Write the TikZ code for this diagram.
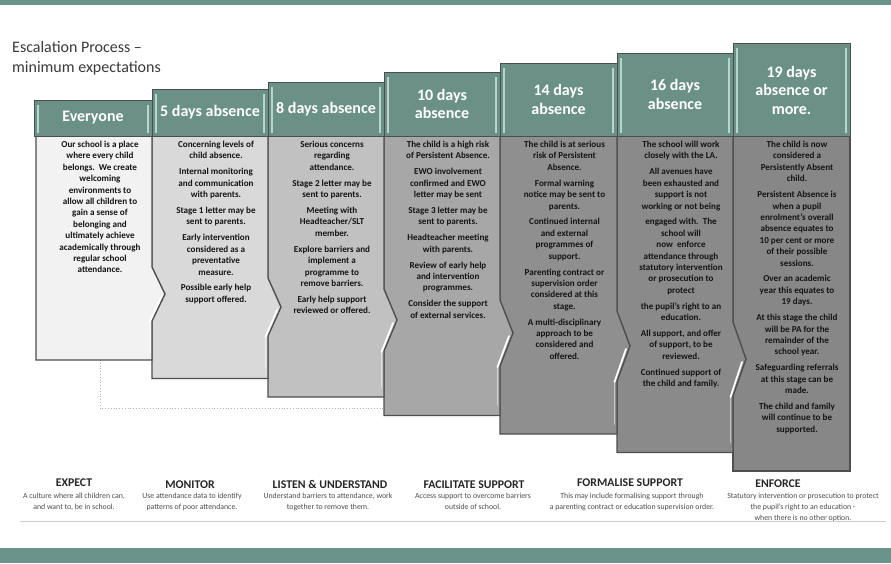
\documentclass[tikz,border=0pt]{standalone}
\usepackage{fontspec}
\setmainfont{Carlito}
\definecolor{band}{HTML}{6A948A}
\definecolor{headfill}{HTML}{6B9186}
\definecolor{headline}{HTML}{4A4F4D}
\definecolor{stripe}{HTML}{B4D6CC}
\definecolor{edge}{HTML}{4E4E4E}
\definecolor{pa}{HTML}{F2F2F2}
\definecolor{pb}{HTML}{D9D9D9}
\definecolor{pc}{HTML}{C1C1C1}
\definecolor{pd}{HTML}{A7A7A7}
\definecolor{pe}{HTML}{8F8F8F}
\definecolor{pf}{HTML}{8A8A8A}
\definecolor{pg}{HTML}{878787}
\definecolor{bodytext}{HTML}{141414}
\definecolor{titletext}{HTML}{3A3A3A}
\tikzset{
  panel/.style={draw=edge, line width=1.4pt, line join=miter},
  headbox/.style={draw=headline, line width=0.9pt, fill=headfill},
  headstripe/.style={draw=stripe, line width=1.1pt},
  headtext/.style={text=white, font=\fontsize{16}{18.5}\selectfont\bfseries, align=center, inner sep=0pt},
  bodytxt/.style={text=bodytext, font=\fontsize{9.1}{11.4}\selectfont\bfseries, align=center, anchor=north, inner sep=0pt},
  hilite/.style={draw=white, line width=1.8pt, line cap=round},
  lowhead/.style={text=black!85, font=\fontsize{11.8}{12}\selectfont\bfseries, inner sep=0pt},
  lowdesc/.style={text=black!70, font=\fontsize{7.8}{10.8}\selectfont, align=center, anchor=north, inner sep=0pt},
}
\begin{document}
\begin{tikzpicture}[x=1pt,y=-1pt]
\useasboundingbox (0,0) rectangle (891,563);
\fill[white] (0,0) rectangle (891,563);
\fill[band] (0,0) rectangle (891,5);
\fill[band] (0,548) rectangle (891,563);

% title
\node[anchor=west, inner sep=0pt, text=titletext, font=\fontsize{16}{20}\selectfont, align=left] (title) at (12,58) {Escalation Process --\\minimum expectations};

% dotted guide line
\coordinate (d1) at (100,360);
\coordinate (d2) at (100,408);
\coordinate (d3) at (384,408);
\draw[dotted, black!30, line width=0.8pt] (d1) -- (d2) -- (d3);

% body panels, back to front
\path[panel, fill=pg] (733,136) rectangle (850,471);
\path[panel, fill=pf] (617,136) -- (733,136) -- (733,322) -- (746,359) -- (733,396) -- (733,452.5) -- (617,452.5) -- cycle;
\path[panel, fill=pe] (500,136) -- (617,136) -- (617,311) -- (630,346) -- (617,381) -- (617,434) -- (500,434) -- cycle;
\path[panel, fill=pd] (384,136) -- (500,136) -- (500,300) -- (513,333) -- (500,366) -- (500,415.5) -- (384,415.5) -- cycle;
\path[panel, fill=pc] (268,136) -- (384,136) -- (384,289) -- (397,320) -- (384,351) -- (384,397) -- (268,397) -- cycle;
\path[panel, fill=pb] (152,136) -- (268,136) -- (268,278) -- (281,307) -- (268,336) -- (268,378.5) -- (152,378.5) -- cycle;
\path[panel, fill=pa] (36,136) -- (152,136) -- (152,267) -- (165,294) -- (152,321) -- (152,360) -- (36,360) -- cycle;

% bevel highlights
\draw[hilite] (161,297) -- (149.5,322);
\draw[hilite, opacity=0.5] (149.5,322) -- (149.5,350);
\draw[hilite] (277,310) -- (265.5,337);
\draw[hilite, opacity=0.5] (265.5,337) -- (265.5,368);
\draw[hilite] (393,323) -- (381.5,352);
\draw[hilite, opacity=0.5] (381.5,352) -- (381.5,387);
\draw[hilite] (509,336) -- (497.5,367);
\draw[hilite, opacity=0.5] (497.5,367) -- (497.5,405);
\draw[hilite] (626,349) -- (614.5,382);
\draw[hilite, opacity=0.5] (614.5,382) -- (614.5,424);
\draw[hilite] (742,362) -- (730.5,397);
\draw[hilite, opacity=0.5] (730.5,397) -- (730.5,442);

% headers
\path[headbox] (34,100) rectangle (152,136);
\path[headbox] (152,89) rectangle (268,136);
\path[headbox] (268,82) rectangle (384,136);
\path[headbox] (384,72) rectangle (500,136);
\path[headbox] (500,63) rectangle (617,136);
\path[headbox] (617,53) rectangle (733,136);
\path[headbox] (733,43) rectangle (850,136);
\foreach \l/\r/\t in {34/152/100,152/268/89,268/384/82,384/500/72,500/617/63,617/733/53,733/850/43}{
  \draw[headstripe] (\l+4,\t+5) -- (\l+4,133);
  \draw[headstripe] (\r-4,\t+5) -- (\r-4,133);
}
\node[headtext] (h1) at (93,118) {Everyone};
\node[headtext] (h2) at (210,112.5) {5 days absence};
\node[headtext] (h3) at (326,109) {8 days absence};
\node[headtext] (h4) at (442,104) {10 days\\absence};
\node[headtext] (h5) at (558.5,99.5) {14 days\\absence};
\node[headtext] (h6) at (675,94.5) {16 days\\absence};
\node[headtext] (h7) at (791.5,90) {19 days\\absence or\\more.};

% body texts
\node[bodytxt] (t1) at (100,141) {Our school is a place\\where every child\\belongs.\ \ We create\\welcoming\\environments to\\allow all children to\\gain a sense of\\belonging and\\ultimately achieve\\academically through\\regular school\\attendance.};
\node[bodytxt] (t2) at (216,141) {Concerning levels of\\child absence.\\[4.5pt]Internal monitoring\\and communication\\with parents.\\[4.5pt]Stage 1 letter may be\\sent to parents.\\[4.5pt]Early intervention\\considered as a\\preventative\\measure.\\[4.5pt]Possible early help\\support offered.};
\node[bodytxt] (t3) at (332,141) {Serious concerns\\regarding\\attendance.\\[4.5pt]Stage 2 letter may be\\sent to parents.\\[4.5pt]Meeting with\\Headteacher/SLT\\member.\\[4.5pt]Explore barriers and\\implement a\\programme to\\remove barriers.\\[4.5pt]Early help support\\reviewed or offered.};
\node[bodytxt] (t4) at (448,141) {The child is a high risk\\of Persistent Absence.\\[4.5pt]EWO involvement\\confirmed and EWO\\letter may be sent\\[4.5pt]Stage 3 letter may be\\sent to parents.\\[4.5pt]Headteacher meeting\\with parents.\\[4.5pt]Review of early help\\and intervention\\programmes.\\[4.5pt]Consider the support\\of external services.};
\node[bodytxt] (t5) at (564.5,141) {The child is at serious\\risk of Persistent\\Absence.\\[4.5pt]Formal warning\\notice may be sent to\\parents.\\[4.5pt]Continued internal\\and external\\programmes of\\support.\\[4.5pt]Parenting contract or\\supervision order\\considered at this\\stage.\\[4.5pt]A multi-disciplinary\\approach to be\\considered and\\offered.};
\node[bodytxt] (t6) at (681,141) {The school will work\\closely with the LA.\\[4.5pt]All avenues have\\been exhausted and\\support is not\\working or not being\\[4.5pt]engaged with.\ \ The\\school will\\now\ \ enforce\\attendance through\\statutory intervention\\or prosecution to\\protect\\[4.5pt]the pupil's right to an\\education.\\[4.5pt]All support, and offer\\of support, to be\\reviewed.\\[4.5pt]Continued support of\\the child and family.};
\node[bodytxt] (t7) at (797,141) {The child is now\\considered a\\Persistently Absent\\child.\\[4.5pt]Persistent Absence is\\when a pupil\\enrolment's overall\\absence equates to\\10 per cent or more\\of their possible\\sessions.\\[4.5pt]Over an academic\\year this equates to\\19 days.\\[4.5pt]At this stage the child\\will be PA for the\\remainder of the\\school year.\\[4.5pt]Safeguarding referrals\\at this stage can be\\made.\\[4.5pt]The child and family\\will continue to be\\supported.};

% bottom legend
\node[lowhead] (l1) at (74,483) {EXPECT};
\node[lowdesc] (e1) at (74,493) {A culture where all children can,\\and want to, be in school.};
\node[lowhead] (l2) at (190,484.5) {MONITOR};
\node[lowdesc] (e2) at (192,493) {Use attendance data to identify\\patterns of poor attendance.};
\node[lowhead] (l3) at (330,484.5) {LISTEN \& UNDERSTAND};
\node[lowdesc] (e3) at (328,493) {Understand barriers to attendance, work\\together to remove them.};
\node[lowhead] (l4) at (474,484.5) {FACILITATE SUPPORT};
\node[lowdesc] (e4) at (473,493) {Access support to overcome barriers\\outside of school.};
\node[lowhead] (l5) at (630,483) {FORMALISE SUPPORT};
\node[lowdesc] (e5) at (632,493) {This may include formalising support through\\a parenting contract or education supervision order.};
\node[lowhead] (l6) at (778,484) {ENFORCE};
\node[lowdesc] (e6) at (803,493) {Statutory intervention or prosecution to protect\\the pupil's right to an education -\\when there is no other option.};
\coordinate (r1) at (20,521);
\coordinate (r2) at (886,521);
\draw[black!20, line width=0.8pt] (r1) -- (r2);
\end{tikzpicture}
\end{document}
